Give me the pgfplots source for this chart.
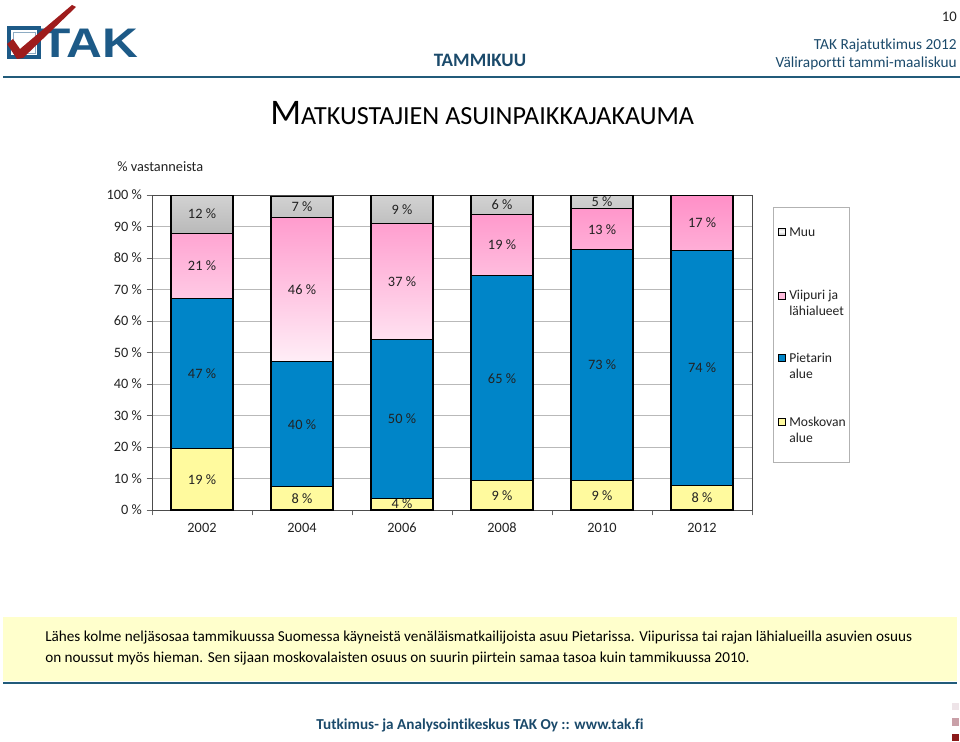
\documentclass[border=0pt]{standalone}
\usepackage{pgfplots}
\pgfplotsset{compat=1.18}
\usepackage{pgfplotstable}
\usepackage{graphicx}
\usepackage{fontspec}
\setmainfont{Carlito}[Ligatures=CommonOff]
\newfontfamily\logofont{Liberation Sans}
\definecolor{moskc}{HTML}{FFFA9E}
\definecolor{pietc}{HTML}{0085C8}
\definecolor{pinktop}{HTML}{FF8FC7}
\definecolor{pinkbot}{HTML}{FFEEF7}
\definecolor{headblue}{HTML}{1B4A6B}
\definecolor{linec}{HTML}{215B7A}
\definecolor{boxc}{HTML}{FFFFCC}
\definecolor{logoblue}{HTML}{1D5A87}
\definecolor{logored}{HTML}{9E1C1C}
\definecolor{txt}{HTML}{222222}
\definecolor{sqa}{HTML}{EEE4E8}
\definecolor{sqb}{HTML}{C9A0A8}
\definecolor{sqc}{HTML}{8B1A1A}
\newcommand{\cf}{\fontsize{10.75}{12.5}\selectfont}
\newcommand{\lf}{\fontsize{10.2}{12}\selectfont}

\pgfplotstableread{
x mosk piet viip muu lm lp lv lu
0 19.4 47.6 20.9 12.1 19 47 21 12
1 7.4 39.6 45.8 6.8 8 40 46 7
2 3.8 50.2 37.0 9.0 4 50 37 9
3 9.3 65.1 19.4 6.2 9 65 19 6
4 9.3 73.4 12.9 4.4 9 73 13 5
5 7.9 74.5 17.6 0 8 74 17 0
}\data

\begin{document}
\begin{tikzpicture}
\useasboundingbox (0pt,0pt) rectangle (720pt,-556.5pt);
\begin{scope}[x=0.75pt,y=-0.75pt]
% header
\draw[linec, line width=1.6pt] (3,77) -- (960,77);
% logo
\draw[logoblue, line width=2.4pt] (9,28) rectangle (39,57);
\draw[logoblue!50, line width=0.6pt] (13,32) rectangle (35,53);
\node[anchor=base west, inner sep=0pt, font=\logofont\bfseries\fontsize{31}{31}\selectfont, text=logoblue] at (40,58) {\scalebox{1.2}[1]{TAK}};
\fill[logored] (7,44) -- (13,39) -- (20,49) -- (72,5) -- (76,7) -- (23,58) -- (17,59) -- cycle;
\node[anchor=base, inner sep=0pt, font=\bfseries\fontsize{14.2}{16}\selectfont, text=headblue] at (480,67) {TAMMIKUU};
\node[anchor=base east, inner sep=0pt, font=\fontsize{11.5}{13}\selectfont, text=headblue] at (957,50) {TAK Rajatutkimus 2012};
\node[anchor=base east, inner sep=0pt, font=\fontsize{11.5}{13}\selectfont, text=headblue] at (957,68) {Väliraportti tammi-maaliskuu};
\node[anchor=base east, inner sep=0pt, font=\fontsize{11}{13}\selectfont, text=txt] at (957,22) {10};
% title
\node[anchor=base west, inner sep=0pt, text=black] at (270,124) {{\fontsize{27}{30}\selectfont M}{\fontsize{19.6}{22}\selectfont ATKUSTAJIEN ASUINPAIKKAJAKAUMA}};
\node[anchor=base west, inner sep=0pt, font=\cf, text=txt] at (117,171) {\% vastanneista};
% legend
\draw[gray!60, fill=white] (773,207) rectangle (849,462);
\draw[black, line width=0.7pt, top color=gray!30, bottom color=gray!50, middle color=white] (778,228) rectangle (785,235);
\draw[black, line width=0.7pt, fill=pinktop!60] (778,292) rectangle (785,299);
\draw[black, line width=0.7pt, fill=pietc] (778,354) rectangle (785,361);
\draw[black, line width=0.7pt, fill=moskc] (778,418) rectangle (785,425);
\begin{scope}[every node/.style={anchor=base west, inner sep=0pt, font=\lf, text=txt}]
\node at (789,236) {Muu};
\node at (789,299) {Viipuri ja};
\node at (789,315) {lähialueet};
\node at (789,362) {Pietarin};
\node at (789,378) {alue};
\node at (789,426) {Moskovan};
\node at (789,442) {alue};
\end{scope}
% bottom box
\fill[boxc] (3,617) rectangle (957,681);
\draw[linec, line width=2pt] (3,683) -- (957,683);
\node[anchor=base west, inner sep=0pt, font=\fontsize{11.4}{15.75}\selectfont, text=black] at (45,641) {Lähes kolme neljäsosaa tammikuussa Suomessa käyneistä venäläismatkailijoista asuu Pietarissa. Viipurissa tai rajan lähialueilla asuvien osuus};
\node[anchor=base west, inner sep=0pt, font=\fontsize{11.4}{15.75}\selectfont, text=black] at (45,662) {on noussut myös hieman. Sen sijaan moskovalaisten osuus on suurin piirtein samaa tasoa kuin tammikuussa 2010.};
\node[anchor=base, inner sep=0pt, font=\bfseries\fontsize{11.4}{13}\selectfont, text=headblue] at (480,729) {Tutkimus- ja Analysointikeskus TAK Oy :: www.tak.fi};
\fill[sqa] (952,703) rectangle (959,710);
\fill[sqb] (952,718) rectangle (959,726);
\fill[sqc] (952,734) rectangle (959,741);
\end{scope}

\begin{axis}[
  at={(114pt,-382.5pt)}, anchor=south west,
  scale only axis, width=450pt, height=236.25pt,
  xmin=-0.5, xmax=5.5, ymin=0, ymax=100,
  ybar stacked, bar width=46.5pt,
  xtick={0,1,2,3,4,5}, xticklabels={2002,2004,2006,2008,2010,2012},
  major x tick style={draw=none},
  minor xtick={-0.5,0.5,1.5,2.5,3.5,4.5,5.5},
  minor tick length=4pt,
  ytick={0,10,...,100},
  yticklabels={0 \%,10 \%,20 \%,30 \%,40 \%,50 \%,60 \%,70 \%,80 \%,90 \%,100 \%},
  major tick length=4pt,
  tick align=outside, tick pos=left,
  tick style={black!60},
  ymajorgrids, grid style={gray!55, line width=0.6pt},
  axis line style={black!70, line width=0.7pt},
  ticklabel style={font=\cf, text=txt},
  xticklabel style={yshift=-2pt},
  every axis plot/.append style={draw=black, line width=0.8pt},
]
\addplot[fill=moskc] table[x=x, y=mosk] \data;
\addplot[fill=pietc] table[x=x, y=piet] \data;
\addplot[top color=pinktop, bottom color=pinkbot] table[x=x, y=viip] \data;
\addplot[top color=gray!35, middle color=gray!5, bottom color=gray!55] table[x=x, y=muu] \data;
\end{axis}

\begin{axis}[
  at={(114pt,-382.5pt)}, anchor=south west,
  scale only axis, width=450pt, height=236.25pt,
  xmin=-0.5, xmax=5.5, ymin=0, ymax=100,
  hide axis,
  nodes near coords={\pgfplotspointmeta~\%},
  point meta=explicit symbolic,
  every node near coord/.append style={anchor=center, font=\cf, text=txt},
]
\addplot[only marks, mark=none] table[x=x, y expr=\thisrow{mosk}/2, meta=lm] \data;
\addplot[only marks, mark=none] table[x=x, y expr=\thisrow{mosk}+\thisrow{piet}/2, meta=lp] \data;
\addplot[only marks, mark=none] table[x=x, y expr=\thisrow{mosk}+\thisrow{piet}+\thisrow{viip}/2, meta=lv] \data;
\addplot[only marks, mark=none, skip coords between index={5}{6}] table[x=x, y expr=\thisrow{mosk}+\thisrow{piet}+\thisrow{viip}+\thisrow{muu}/2, meta=lu] \data;
\end{axis}
\end{tikzpicture}
\end{document}
